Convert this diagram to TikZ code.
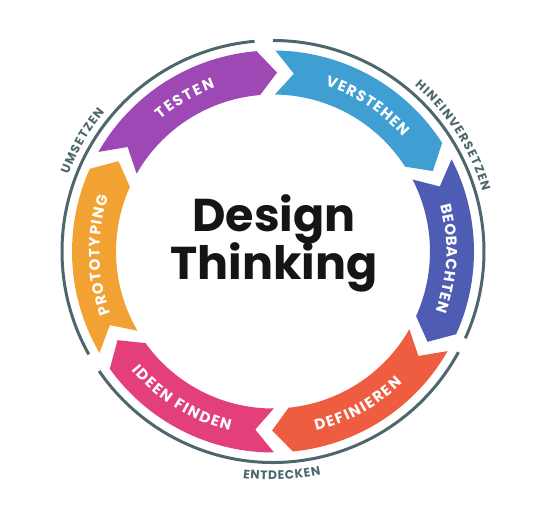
\documentclass[tikz,border=0pt]{standalone}
\usepackage{fontspec}
\setmainfont{Poppins}
\usetikzlibrary{decorations.text}
\definecolor{ringc}{HTML}{4D676D}
\definecolor{cpurple}{HTML}{9E48B6}
\definecolor{cblue}{HTML}{3F9FD2}
\definecolor{cindigo}{HTML}{4E5CB3}
\definecolor{cred}{HTML}{EF5D40}
\definecolor{cpink}{HTML}{E33F7B}
\definecolor{corange}{HTML}{F2A133}
\definecolor{ctext}{HTML}{151515}
\newcommand\ribfont{\bfseries\fontsize{15}{15}\selectfont}
\newcommand\outfont{\bfseries\fontsize{12.3}{12.3}\selectfont}
\newcommand\dtribbon[3]{%
  \fill[#1] (#2:\Ro) arc[start angle=#2, end angle=#3, radius=\Ro]
    -- ({#3-6}:\Rm) -- (#3:\Ri) arc[start angle=#3, end angle=#2, radius=\Ri]
    -- ({#2-6}:\Rm) -- cycle;}
\newcommand\arclabel[6]{% text, start, end, radius, font, colour
  \path[decorate, decoration={text along path, text={|#5|#1}, text align={fit to path}, text color=#6}]
    (#2:#4) arc[start angle=#2, end angle=#3, radius=#4];}
\tikzset{ring/.style={draw=ringc, line width=3pt}}
\begin{document}
\begin{tikzpicture}[x=1pt,y=1pt]
\useasboundingbox (-273,-269.5) rectangle (274,251.5);
\def\Ro{201}\def\Ri{157}\def\Rm{179}
% ribbons (clockwise arrows)
\dtribbon{cpurple}{150.3}{94.7}
\dtribbon{cblue}{89.3}{32.7}
\dtribbon{cindigo}{27.3}{-24.3}
\dtribbon{cred}{-29.7}{-84.3}
\dtribbon{cpink}{-89.7}{-144.3}
\dtribbon{corange}{210.3}{155.7}
% outer ring
\draw[ring] (95:211) arc[start angle=95, end angle=209.2, radius=211];
\draw[ring] (90:211) arc[start angle=90, end angle=-24.3, radius=211];
\draw[ring] (-28.5:211) arc[start angle=-28.5, end angle=-145.5, radius=211];
% ribbon labels
\arclabel{TESTEN}{130.5}{109.5}{173.5}{\ribfont}{white}
\arclabel{VERSTEHEN}{72.5}{41.5}{173.5}{\ribfont}{white}
\arclabel{BEOBACHTEN}{15.5}{-20}{173.5}{\ribfont}{white}
\arclabel{DEFINIEREN}{-76.5}{-45.5}{184.5}{\ribfont}{white}
\arclabel{IDEEN FINDEN}{220}{256.5}{184.5}{\ribfont}{white}
\arclabel{PROTOTYPING}{201}{161.6}{173.5}{\ribfont}{white}
% outer labels
\arclabel{UMSETZEN}{159.4}{140.4}{218.5}{\outfont}{ringc}
\arclabel{HINEINVERSETZEN}{49.5}{16}{218}{\outfont}{ringc}
\arclabel{ENTDECKEN}{-97.6}{-77.9}{228.5}{\outfont}{ringc}
% centre title
\node[anchor=base, text=ctext, font=\bfseries\fontsize{46}{48}\selectfont, inner sep=0pt] (design) at (1,19.5) {Design};
\node[anchor=base, text=ctext, font=\bfseries\fontsize{46}{48}\selectfont, inner sep=0pt] (thinking) at (1,-28.5) {Thinking};
\end{tikzpicture}
\end{document}
